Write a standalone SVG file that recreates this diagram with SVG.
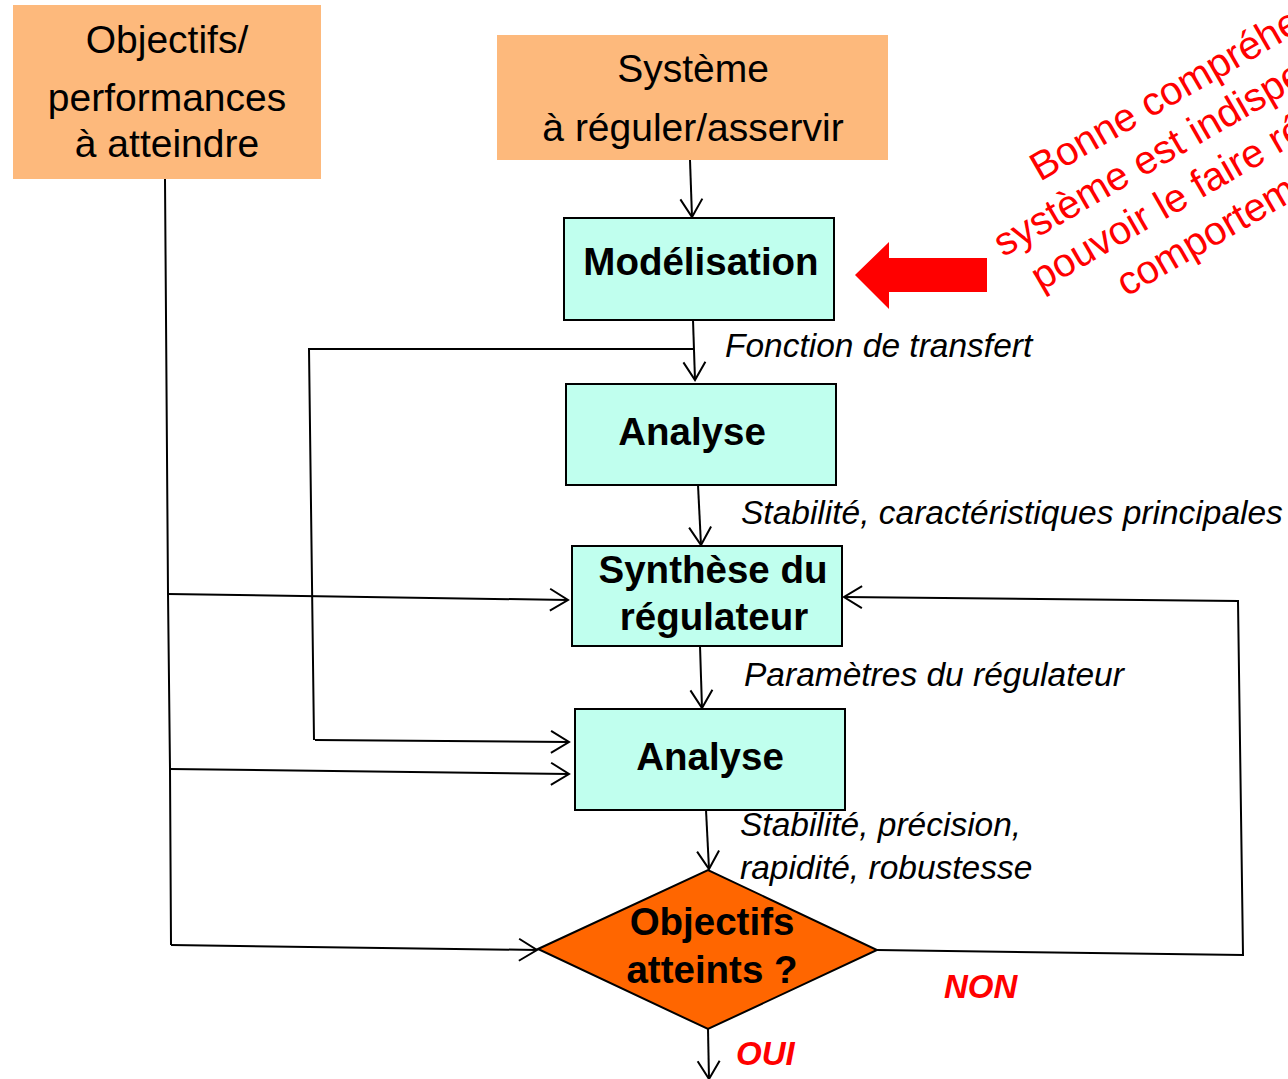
<svg xmlns="http://www.w3.org/2000/svg" width="1288" height="1079" viewBox="0 0 1288 1079">
  <style>
    .src { fill: #FDB97C; stroke: none; }
    .step { fill: #C0FFEE; stroke: #000; stroke-width: 2; }
    .test { fill: #FF6600; stroke: #000; stroke-width: 2; }
    .t-src { font-family: "Liberation Sans", Arial, sans-serif; font-size: 39px; fill: #000; text-anchor: middle; }
    .t-step { font-family: "Liberation Sans", Arial, sans-serif; font-size: 38.5px; font-weight: bold; fill: #000; text-anchor: middle; }
    .t-lbl { font-family: "Liberation Sans", Arial, sans-serif; font-size: 33.5px; font-style: italic; fill: #000; }
    .t-dec { font-family: "Liberation Sans", Arial, sans-serif; font-size: 33px; font-style: italic; font-weight: bold; fill: #FF0000; }
    .t-note { font-family: "Liberation Sans", Arial, sans-serif; font-size: 40px; fill: #FF0000; }
    .wire { fill: none; stroke: #000; stroke-width: 2; }
    .arr { marker-end: url(#head); }
  </style>
  <defs>
    <marker id="head" viewBox="0 0 22 26" markerWidth="22" markerHeight="26" refX="19" refY="13" orient="auto" markerUnits="userSpaceOnUse">
      <path d="M1,2 L19,13 L1,24" fill="none" stroke="#000" stroke-width="2"/>
    </marker>
  </defs>

  <!-- inputs -->
  <g id="objectifs">
    <rect class="src" x="13" y="5" width="308" height="174"/>
    <text class="t-src" x="167" y="53">Objectifs/</text>
    <text class="t-src" x="167" y="111">performances</text>
    <text class="t-src" x="167" y="157">à atteindre</text>
  </g>
  <g id="systeme">
    <rect class="src" x="497" y="35" width="391" height="125"/>
    <text class="t-src" x="693" y="82">Système</text>
    <text class="t-src" x="693" y="141">à réguler/asservir</text>
  </g>

  <!-- process steps -->
  <g id="modelisation">
    <rect class="step" x="564" y="218" width="270" height="102"/>
    <text class="t-step" x="701" y="275">Modélisation</text>
  </g>
  <g id="analyse1">
    <rect class="step" x="566" y="384" width="270" height="101"/>
    <text class="t-step" x="692" y="445">Analyse</text>
  </g>
  <g id="synthese">
    <rect class="step" x="572" y="546" width="270" height="100"/>
    <text class="t-step" x="713" y="583">Synthèse du</text>
    <text class="t-step" x="714" y="630">régulateur</text>
  </g>
  <g id="analyse2">
    <rect class="step" x="575" y="709" width="270" height="101"/>
    <text class="t-step" x="710" y="770">Analyse</text>
  </g>
  <g id="decision">
    <polygon class="test" points="538,949 708,870 877,950 708,1029"/>
    <text class="t-step" x="712" y="935">Objectifs</text>
    <text class="t-step" x="712" y="983">atteints ?</text>
  </g>

  <!-- connectors -->
  <g id="connectors">
    <line class="wire arr" x1="690" y1="160" x2="692" y2="217"/>
    <line class="wire arr" x1="693" y1="320" x2="695" y2="380"/>
    <line class="wire arr" x1="698" y1="485" x2="701" y2="545"/>
    <line class="wire arr" x1="700" y1="646" x2="702" y2="708"/>
    <line class="wire arr" x1="706" y1="810" x2="709" y2="869"/>
    <line class="wire arr" x1="708" y1="1029" x2="709" y2="1079"/>

    <!-- objectives bus -->
    <polyline class="wire" points="165,179 168,593 170,769 171,945"/>
    <line class="wire arr" x1="168" y1="594" x2="568" y2="600"/>
    <line class="wire arr" x1="170" y1="769" x2="569" y2="774"/>
    <line class="wire arr" x1="171" y1="945" x2="537" y2="950"/>

    <!-- transfer function bus -->
    <polyline class="wire" points="693,349 309,349 314,740"/>
    <line class="wire arr" x1="315" y1="740" x2="569" y2="742"/>

    <!-- NON loop back -->
    <polyline class="wire arr" points="877,950 1243,955 1238,601 844,597"/>
  </g>

  <!-- flow labels -->
  <g id="labels">
    <text class="t-lbl" x="725" y="357">Fonction de transfert</text>
    <text class="t-lbl" x="741" y="524">Stabilité, caractéristiques principales</text>
    <text class="t-lbl" x="744" y="686">Paramètres du régulateur</text>
    <text class="t-lbl" x="740" y="836">Stabilité, précision,</text>
    <text class="t-lbl" x="740" y="879">rapidité, robustesse</text>
    <text class="t-dec" x="944" y="998">NON</text>
    <text class="t-dec" x="736" y="1065">OUI</text>
  </g>

  <!-- callout -->
  <g id="note">
    <polygon fill="#FF0000" points="855,275 889,242 889,258 987,258 987,292 889,292 889,309"/>
    <g transform="translate(1040,182) rotate(-30)">
      <text class="t-note" x="0" y="0">Bonne compréhe</text>
      <text class="t-note" x="-69.5" y="47">système est indispe</text>
      <text class="t-note" x="-54" y="95">pouvoir le faire ré</text>
      <text class="t-note" x="17" y="143">comportem</text>
    </g>
  </g>
</svg>
